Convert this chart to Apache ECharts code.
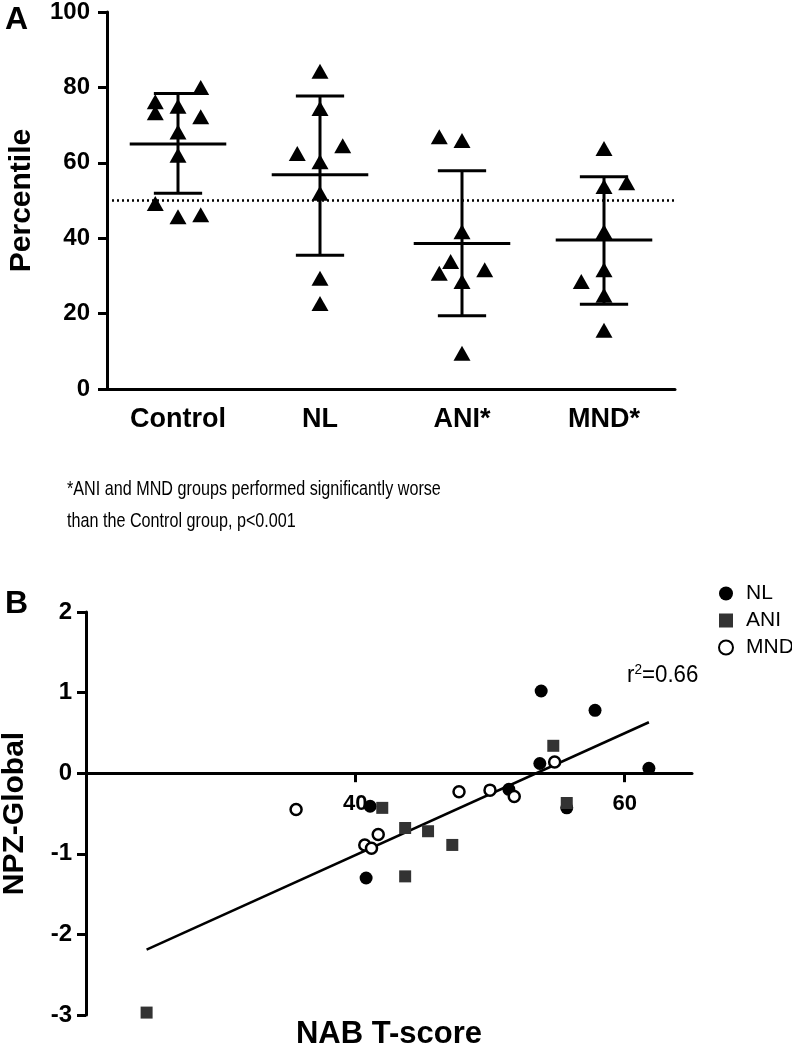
<!DOCTYPE html>
<html>
<head>
<meta charset="utf-8">
<script src="https://cdn.jsdelivr.net/npm/echarts@6/dist/echarts.min.js"></script>
<style>
html,body{margin:0;padding:0;background:#fff;}
#chart{width:792px;height:1048px;}
</style>
</head>
<body>
<div id="chart"></div>
<script>
// ---------- Panel A data ----------
const groups = ['Control', 'NL', 'ANI*', 'MND*'];
const controlVals  = [76.2, 73.3, 75.0, 80.0, 72.2, 68.2, 62.0, 49.2, 45.7, 46.2];
const controlSlots = [-1, -1, 0, 1, 1, 0, 0, -1, 0, 1];
const nlVals   = [84.3, 74.4, 62.5, 64.5, 60.3, 51.9, 29.4, 22.7];
const nlSlots  = [0, 0, -1, 1, 0, 0, 0, 0];
const aniVals  = [66.9, 65.9, 41.7, 33.8, 30.7, 31.6, 28.5, 9.5];
const aniSlots = [-1, 0, 0, -0.5, -1, 1, 0, 0];
const mndVals  = [63.8, 53.7, 54.7, 41.7, 31.6, 28.5, 24.9, 15.6];
const mndSlots = [0, 0, 1, 0, 0, -1, 0, 0];
const groupMean   = [65.0, 56.8, 38.6, 39.5];
const groupSdLow  = [51.9, 35.5, 19.4, 22.5];
const groupSdHigh = [78.4, 77.7, 57.9, 56.3];
const referenceLine = 50;
const percentileTicks = [0, 20, 40, 60, 80, 100];

// ---------- Panel B data ----------
const nlPoints  = [[41.1,-0.41],[40.8,-1.30],[51.4,-0.20],[53.8,1.02],[57.8,0.78],[53.7,0.12],[61.8,0.06],[55.7,-0.43]];
const aniPoints = [[42.0,-0.43],[24.5,-2.97],[43.7,-0.68],[45.4,-0.72],[47.2,-0.89],[43.7,-1.28],[54.7,0.34],[55.7,-0.37]];
const mndPoints = [[35.6,-0.45],[40.7,-0.89],[41.2,-0.93],[41.7,-0.76],[47.7,-0.23],[50.0,-0.21],[51.8,-0.29],[54.8,0.14]];
const fitSlope = 0.0756;
const fitIntercept = -4.04;
const fitRange = [24.5, 61.8];
const nabTicks = [40, 60];
const npzTicks = [-3, -2, -1, 0, 1, 2];

// ---------- build ----------
const JIT = 0.16;
const allVals = [controlVals, nlVals, aniVals, mndVals];
const allSlots = [controlSlots, nlSlots, aniSlots, mndSlots];
const triPoints = [];
allVals.forEach((vals, gi) => vals.forEach((v, k) => triPoints.push([gi + allSlots[gi][k] * JIT, v])));
const statData = groups.map((g, i) => [i, groupMean[i], groupSdLow[i], groupSdHigh[i]]);
const fitLine = fitRange.map(x => [x, fitSlope * x + fitIntercept]);

const FONT = "'Liberation Sans', Arial, sans-serif";
const AXW = 3;
const TICK = 9;
const gridB = {left: 86, top: 612, width: 606, height: 403};
const yMinB = -3, yMaxB = 2;
// distance in px from the bottom of grid B up to y = 0 (where the x axis line sits)
const zeroLiftB = gridB.height * (0 - yMinB) / (yMaxB - yMinB);
const tickLenB = TICK * (yMaxB - yMinB) / gridB.height;   // tick length in y units

const chart = echarts.init(document.getElementById('chart'), null, {renderer: 'canvas'});
chart.setOption({
  animation: false,
  backgroundColor: '#fff',
  textStyle: {fontFamily: FONT, color: '#000'},
  grid: [
    {left: 107, top: 12, width: 568, height: 377, outerBoundsMode: 'none', containLabel: false},
    Object.assign({outerBoundsMode: 'none', containLabel: false}, gridB)
  ],
  xAxis: [
    {
      type: 'category', gridIndex: 0, data: groups, boundaryGap: true,
      axisLine: {onZero: false, lineStyle: {color: '#000', width: AXW}},
      axisTick: {alignWithLabel: true, length: TICK, lineStyle: {color: '#000', width: AXW}},
      axisLabel: {color: '#000', fontWeight: 'bold', fontSize: 27, margin: 17, fontFamily: FONT},
      splitLine: {show: false}
    },
    {type: 'value', gridIndex: 0, min: -0.5, max: 3.5, show: false},
    {
      type: 'value', gridIndex: 1, min: 20, max: 65, position: 'bottom',
      axisLine: {show: true, onZero: true, lineStyle: {color: '#000', width: AXW}},
      axisTick: {show: false},
      axisLabel: {customValues: nabTicks, color: '#000', fontWeight: 'bold', fontSize: 22, margin: 20 - zeroLiftB, fontFamily: FONT},
      splitLine: {show: false},
      name: 'NAB T-score', nameLocation: 'middle', nameGap: 4,
      nameTextStyle: {color: '#000', fontWeight: 'bold', fontSize: 31, fontFamily: FONT}
    }
  ],
  yAxis: [
    {
      type: 'value', gridIndex: 0, min: 0, max: 100, interval: 20,
      axisLine: {show: true, onZero: false, lineStyle: {color: '#000', width: AXW}},
      axisTick: {show: true, customValues: percentileTicks, length: TICK, lineStyle: {color: '#000', width: AXW}},
      axisLabel: {customValues: percentileTicks, color: '#000', fontWeight: 'bold', fontSize: 24, margin: 17, fontFamily: FONT},
      splitLine: {show: false},
      name: 'Percentile', nameLocation: 'middle', nameGap: 70,
      nameTextStyle: {color: '#000', fontWeight: 'bold', fontSize: 30, fontFamily: FONT}
    },
    {
      type: 'value', gridIndex: 1, min: yMinB, max: yMaxB, interval: 1,
      axisLine: {show: true, onZero: false, lineStyle: {color: '#000', width: AXW}},
      axisTick: {show: true, customValues: npzTicks, length: TICK, lineStyle: {color: '#000', width: AXW}},
      axisLabel: {customValues: npzTicks, color: '#000', fontWeight: 'bold', fontSize: 24, margin: 14, fontFamily: FONT},
      splitLine: {show: false},
      name: 'NPZ-Global', nameLocation: 'middle', nameGap: 56,
      nameTextStyle: {color: '#000', fontWeight: 'bold', fontSize: 30, fontFamily: FONT}
    }
  ],
  legend: {
    data: ['NL', 'ANI', 'MND'],
    orient: 'vertical', left: 713, top: 578,
    itemWidth: 14, itemHeight: 14, itemGap: 6,
    textStyle: {color: '#000', fontSize: 21, fontFamily: FONT, padding: [0, 0, 0, 8]}
  },
  graphic: [
    {type: 'text', left: 5, top: 4, style: {text: 'A', font: "bold 32px 'Liberation Sans', Arial, sans-serif", fill: '#000'}},
    {type: 'text', left: 5, top: 588, style: {text: 'B', font: "bold 32px 'Liberation Sans', Arial, sans-serif", fill: '#000'}},
    {type: 'text', x: 67, y: 473, scaleX: 0.77, style: {
      text: '*ANI and MND groups performed significantly worse\nthan the Control group, p<0.001',
      font: "21px 'Liberation Sans', Arial, sans-serif", fill: '#000', lineHeight: 32, verticalAlign: 'top'}},
    {type: 'text', x: 627, y: 663, scaleX: 0.97, style: {
      text: '{a|r}{s|2}{a|=0.66}', verticalAlign: 'top',
      rich: {
        a: {fontSize: 23, fontFamily: FONT, fill: '#000', verticalAlign: 'bottom', lineHeight: 24},
        s: {fontSize: 14, fontFamily: FONT, fill: '#000', verticalAlign: 'top', lineHeight: 24}
      }}}
  ],
  series: [
    {
      name: 'Percentile values', type: 'scatter', xAxisIndex: 1, yAxisIndex: 0,
      symbol: 'triangle', symbolSize: [17, 15], z: 5,
      itemStyle: {color: '#000', opacity: 1},
      data: triPoints,
      markLine: {
        silent: true, symbol: 'none', label: {show: false},
        lineStyle: {color: '#000', width: 2.5, type: [2, 3]},
        data: [{yAxis: referenceLine}]
      }
    },
    {
      name: 'Mean ± SD', type: 'custom', xAxisIndex: 1, yAxisIndex: 0, z: 3,
      data: statData,
      renderItem: function (params, api) {
        const i = api.value(0);
        const pm = api.coord([i, api.value(1)]);
        const pl = api.coord([i, api.value(2)]);
        const ph = api.coord([i, api.value(3)]);
        const wMean = api.size([0.34, 0])[0];
        const wCap = api.size([0.17, 0])[0];
        const st = {stroke: '#000', lineWidth: 3};
        return {type: 'group', children: [
          {type: 'line', shape: {x1: pm[0] - wMean, y1: pm[1], x2: pm[0] + wMean, y2: pm[1]}, style: st},
          {type: 'line', shape: {x1: pl[0], y1: pl[1], x2: ph[0], y2: ph[1]}, style: st},
          {type: 'line', shape: {x1: ph[0] - wCap, y1: ph[1], x2: ph[0] + wCap, y2: ph[1]}, style: st},
          {type: 'line', shape: {x1: pl[0] - wCap, y1: pl[1], x2: pl[0] + wCap, y2: pl[1]}, style: st}
        ]};
      }
    },
    {
      name: 'Fit', type: 'line', xAxisIndex: 2, yAxisIndex: 1, data: fitLine,
      symbol: 'none', lineStyle: {color: '#000', width: 2.5}, z: 2,
      // tick marks of the NAB T-score axis, hanging below the y = 0 axis line
      markLine: {
        silent: true, symbol: 'none', label: {show: false},
        lineStyle: {color: '#000', width: AXW, type: 'solid'},
        data: nabTicks.map(v => [{coord: [v, 0]}, {coord: [v, -tickLenB]}])
      }
    },
    {
      name: 'NL', type: 'scatter', xAxisIndex: 2, yAxisIndex: 1, data: nlPoints,
      symbol: 'circle', symbolSize: 13, itemStyle: {color: '#000', opacity: 1}, z: 4
    },
    {
      name: 'ANI', type: 'scatter', xAxisIndex: 2, yAxisIndex: 1, data: aniPoints,
      symbol: 'rect', symbolSize: 12, itemStyle: {color: '#333', opacity: 1}, z: 4
    },
    {
      name: 'MND', type: 'scatter', xAxisIndex: 2, yAxisIndex: 1, data: mndPoints,
      symbol: 'circle', symbolSize: 11, itemStyle: {color: '#fff', borderColor: '#000', borderWidth: 2.5, opacity: 1}, z: 5
    }
  ]
});
</script>
</body>
</html>
